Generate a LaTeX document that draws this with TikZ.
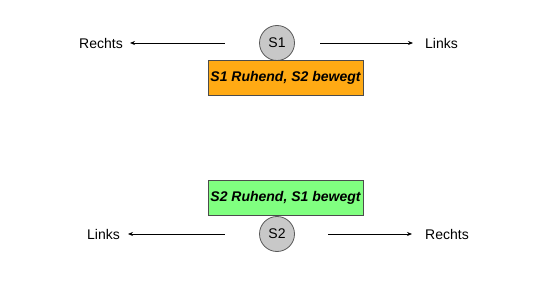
\documentclass[tikz,border=0pt]{standalone}
\usepackage{fontspec}
\setmainfont{Liberation Sans}
\usetikzlibrary{arrows.meta}
\definecolor{boxorange}{RGB}{255,170,20}
\definecolor{boxgreen}{RGB}{128,255,128}
\definecolor{discgray}{RGB}{200,200,200}
\begin{document}
\begin{tikzpicture}[
        x=1pt,
        y=-1pt,
        disc/.style={
            circle,
            draw=black!65,
            fill=discgray,
            line width=0.8pt,
            minimum size=35pt,
            inner sep=0pt,
            font=\fontsize{14}{16}\selectfont
        },
        statebox/.style={
            rectangle,
            draw=black!70,
            line width=0.8pt,
            minimum width=155pt,
            minimum height=35pt,
            inner sep=0pt,
            font=\fontsize{14}{16}\selectfont\bfseries\itshape
        },
        dirlabel/.style={
            inner sep=0pt,
            font=\fontsize{14}{16}\selectfont
        },
        arrow/.style={-{Stealth[length=5pt,width=4pt]}, line width=0.7pt}
    ]

        \useasboundingbox (0,0) rectangle (548,288);

        % S1 ruht
        \node[disc] (s1) at (277,43) {S1};
        \node[statebox, fill=boxorange] (rest1) at (285.5,77.5) {S1 Ruhend, S2 bewegt};
        \node[dirlabel, anchor=east] (left1) at (123,43) {Rechts};
        \node[dirlabel, anchor=west] (right1) at (425,43) {Links};

        % S2 ruht
        \node[statebox, fill=boxgreen] (rest2) at (285.5,198) {S2 Ruhend, S1 bewegt};
        \node[disc] (s2) at (277,234) {S2};
        \node[dirlabel, anchor=east] (left2) at (120,234) {Links};
        \node[dirlabel, anchor=west] (right2) at (425,234) {Rechts};

        \draw[arrow, shorten <=34.5pt, shorten >=7pt] (s1) -- (left1);
        \draw[arrow, shorten <=25.5pt, shorten >=12pt] (s1) -- (right1);
        \draw[arrow, shorten <=34.5pt, shorten >=8pt] (s2) -- (left2);
        \draw[arrow, shorten <=33.5pt, shorten >=13pt] (s2) -- (right2);

    \end{tikzpicture}
\end{document}
